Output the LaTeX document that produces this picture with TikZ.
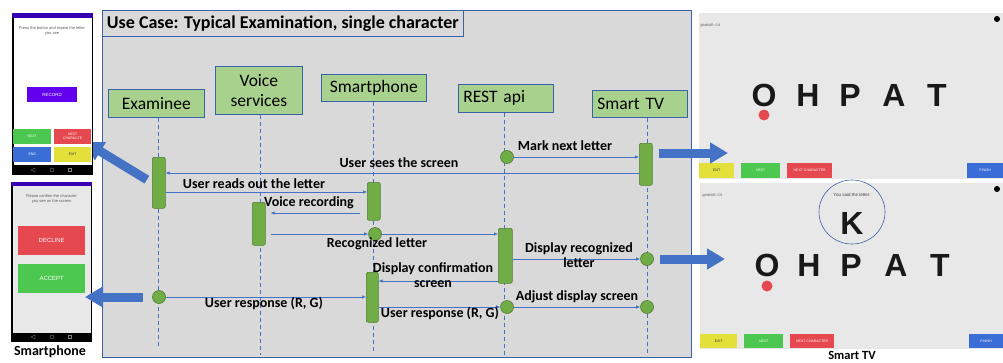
\documentclass[tikz,border=0pt]{standalone}
\usepackage{fontspec}
\setmainfont{Carlito}
\newfontfamily\scrfont{Liberation Sans}
\usepackage{xcolor}
\usetikzlibrary{arrows.meta}

\definecolor{frameblue}{HTML}{4472C4}
\definecolor{edgeblue}{HTML}{3A62A8}
\definecolor{panelgray}{HTML}{D9D9D9}
\definecolor{actorgreen}{HTML}{A9D18E}
\definecolor{bargreen}{HTML}{70AD47}
\definecolor{bardark}{HTML}{507E32}
\definecolor{btnyellow}{HTML}{E3E03A}
\definecolor{btngreen}{HTML}{4CC74F}
\definecolor{btnred}{HTML}{E5484E}
\definecolor{btnblue}{HTML}{3A6ED6}
\definecolor{btnpurple}{HTML}{6200EE}
\definecolor{statpurple}{HTML}{3700B3}
\definecolor{screengray}{HTML}{E8E8E8}

\begin{document}
\begin{tikzpicture}[x=1pt, y=-1pt,
    actor/.style={draw=edgeblue, fill=actorgreen, line width=0.7pt, inner sep=0pt, anchor=north west, align=center, font=\fontsize{17.5}{20}\selectfont},
    life/.style={frameblue, line width=0.8pt, dash pattern=on 4pt off 3pt},
    actbar/.style={draw=bardark, fill=bargreen, line width=0.6pt, rounded corners=2pt, inner sep=0pt, anchor=north west},
    actdot/.style={circle, draw=bardark, fill=bargreen, line width=0.6pt, minimum size=13pt, inner sep=0pt},
    msg/.style={frameblue, line width=0.6pt, -{Latex[length=4pt,width=3.5pt]}},
    lbl/.style={inner sep=0pt, align=center, font=\fontsize{14}{15}\selectfont\bfseries},
    bigarrow/.style={frameblue, line width=9pt, -{Triangle[length=18pt,width=20pt]}},
    btn/.style={inner sep=0pt, anchor=north west, text=white, align=center, font=\scrfont\fontsize{3.5}{4}\selectfont},
    tvletter/.style={inner sep=0pt, text=black!90, font=\scrfont\bfseries\fontsize{32}{32}\selectfont},
    smalltxt/.style={inner sep=0pt, text=black!65, align=center, font=\scrfont\fontsize{4}{5}\selectfont}]
    \useasboundingbox (0,0) rectangle (1003,362);

    % frame of the use case
    \node[draw=edgeblue, fill=panelgray, line width=0.8pt, minimum width=589pt, minimum height=347pt, inner sep=0pt, anchor=north west] (frame) at (102,10) {};
    \node[draw=edgeblue, fill=panelgray, line width=0.8pt, minimum width=361pt, minimum height=26pt, inner sep=0pt, anchor=north west, font=\fontsize{18}{20}\selectfont\bfseries] (title) at (102,10) {Use Case: Typical Examination, single character};

    % actors
    \node[actor, minimum width=96pt, minimum height=28pt] (ex) at (108,89) {Examinee};
    \node[actor, minimum width=87pt, minimum height=48pt] (vs) at (215,66) {Voice\\services};
    \node[actor, minimum width=105pt, minimum height=27pt] (sp) at (321,74) {Smartphone};
    \node[actor, text width=85pt, inner xsep=5pt, minimum height=28pt, align=left] (rest) at (458,84) {REST api};
    \node[actor, text width=85pt, inner xsep=5pt, minimum height=27pt, align=left] (tv) at (592,90) {Smart TV};

    % lifelines
    \coordinate (exend) at (158,347);
    \coordinate (vsend) at (260,355);
    \coordinate (spend) at (373,353);
    \coordinate (restend) at (504,355);
    \coordinate (tvend) at (647,353);
    \draw[life] (ex.south -| exend) -- (exend);
    \draw[life] (vs.south -| vsend) -- (vsend);
    \draw[life] (sp.south -| spend) -- (spend);
    \draw[life] (rest.south -| restend) -- (restend);
    \draw[life] (tv.south -| tvend) -- (tvend);

    % activations
    \node[actbar, minimum width=13pt, minimum height=51pt] (exbar) at (152,157) {};
    \node[actbar, minimum width=13pt, minimum height=43pt] (vsbar) at (252,202) {};
    \node[actbar, minimum width=13pt, minimum height=38pt] (spbarA) at (367,182) {};
    \node[actbar, minimum width=13pt, minimum height=42pt] (tvbarA) at (639,143) {};
    \node[actbar, minimum width=14pt, minimum height=55pt] (restbar) at (498,228) {};
    \node[actbar, minimum width=12pt, minimum height=50pt] (spbarB) at (366,272) {};
    \node[actdot] (restc1) at (507,157) {};
    \node[actdot] (spc1) at (375,234) {};
    \node[actdot] (tvc1) at (647,259) {};
    \node[actdot] (exc) at (159,297) {};
    \node[actdot] (restc2) at (507,307) {};
    \node[actdot] (tvc2) at (647,307) {};

    % messages
    \draw[msg] (restc1) -- (tvbarA.west |- restc1);
    \draw[msg] (tvbarA.west |- 0,173) -- (exbar.east |- 0,173);
    \draw[msg] (exbar.east |- 0,192) -- (spbarA.west |- 0,192);
    \draw[msg, shorten <=7pt, shorten >=5pt] (spbarA.west |- 0,213) -- (vsbar.east |- 0,213);
    \draw[msg, shorten <=5pt] (vsbar.east |- spc1) -- (spc1);
    \draw[msg] (spc1) -- (restbar.west |- spc1);
    \draw[msg] (restbar.east |- tvc1) -- (tvc1);
    \draw[msg] (restbar.west |- 0,281) -- (spbarB.east |- 0,281);
    \draw[msg] (exc) -- (spbarB.west |- exc);
    \draw[msg] (spbarB.east |- restc2) -- (restc2);
    \draw[msg] (restc2) -- (tvc2);

    \node[lbl] (lmark) at (565,146) {Mark next letter};
    \node[lbl] (lsees) at (399,163) {User sees the screen};
    \node[lbl] (lreads) at (254,184) {User reads out the letter};
    \node[lbl] (lvoice) at (309,203) {Voice recording};
    \node[lbl] (lrecog) at (377,244) {Recognized letter};
    \node[lbl] (ldisp) at (579,255.5) {Display recognized\\letter};
    \node[lbl] (lconf) at (433,275.5) {Display confirmation\\screen};
    \node[lbl] (lrespA) at (264,303) {User response (R, G)};
    \node[lbl] (lrespB) at (440,313) {User response (R, G)};
    \node[lbl] (ladjust) at (577,297) {Adjust display screen};

    % arrow to the first phone screen, behind it
    \coordinate (tipPA) at (85,142);
    \draw[bigarrow, shorten <=6pt] (exbar.west) -- (tipPA);

    % phone: record screen
    \node[fill=black, minimum width=81pt, minimum height=162pt, inner sep=0pt, anchor=north west] (phoneA) at (12,13) {};
    \fill[white] (13.5,18) rectangle (91.5,165);
    \fill[statpurple] (12,13) rectangle (93,18);
    \node[smalltxt] (pressA) at (52,31) {Press the button and repeat the letter\\you see};
    \node[btn, fill=btnpurple, minimum width=50pt, minimum height=15pt, font=\scrfont\fontsize{4.5}{5}\selectfont] (record) at (27,87) {RECORD};
    \node[btn, fill=btngreen, minimum width=38pt, minimum height=15pt] (nextA) at (13,129) {NEXT};
    \node[btn, fill=btnred, minimum width=37pt, minimum height=15pt] (charA) at (54,129) {NEXT\\CHARACTE};
    \node[btn, fill=btnblue, minimum width=38pt, minimum height=15pt] (endA) at (13,147) {END};
    \node[btn, fill=btnyellow, minimum width=37pt, minimum height=15pt, text=black!80] (exitA) at (54,147) {EXIT};
    \draw[gray, line width=0.4pt] (35,168) -- (31,170) -- (35,172) -- cycle;
    \draw[gray, line width=0.4pt] (52,170) circle[radius=2pt];
    \draw[gray, line width=0.4pt] (68.5,168.5) rectangle (71.5,171.5);

    % phone: confirm screen
    \node[fill=black, minimum width=81pt, minimum height=160pt, inner sep=0pt, anchor=north west] (phoneB) at (11,182) {};
    \fill[screengray] (12.5,186) rectangle (90.5,333);
    \fill[statpurple] (11,182) rectangle (92,186);
    \node[smalltxt] (pressB) at (51.5,198.5) {Please confirm the character\\you see on the screen};
    \node[btn, fill=btnred, minimum width=67pt, minimum height=29pt, font=\scrfont\fontsize{6}{7}\selectfont] (decline) at (18,226) {DECLINE};
    \node[btn, fill=btngreen, minimum width=67pt, minimum height=29pt, font=\scrfont\fontsize{6}{7}\selectfont] (accept) at (18,264) {ACCEPT};
    \draw[gray, line width=0.4pt] (35,335) -- (31,337) -- (35,339) -- cycle;
    \draw[gray, line width=0.4pt] (52,337) circle[radius=2pt];
    \draw[gray, line width=0.4pt] (68.5,335.5) rectangle (71.5,338.5);
    \node[inner sep=0pt, font=\fontsize{14}{16}\selectfont\bfseries] (phlabel) at (50,352) {Smartphone};

    % TV: chart
    \node[fill=screengray, minimum width=304pt, minimum height=166pt, inner sep=0pt, anchor=north west] (tvA) at (699,13) {};
    \node[smalltxt, anchor=west, font=\scrfont\fontsize{3.5}{4}\selectfont] (marA) at (700,26) {ightMAR: 0.9};
    \fill[black] (997,19) circle[radius=3pt];
    \foreach \ch/\x in {O/764,H/808,P/850,A/894,T/937}
        \node[tvletter] (ta\ch) at (\x,95) {\ch};
    \fill[btnred] (764,115) circle[radius=5.5pt];
    \node[btn, fill=btnyellow, minimum width=35pt, minimum height=15pt, text=black!80] (exitTA) at (699,163) {EXIT};
    \node[btn, fill=btngreen, minimum width=39pt, minimum height=15pt] (nextTA) at (741,163) {NEXT};
    \node[btn, fill=btnred, minimum width=45pt, minimum height=15pt] (charTA) at (787,163) {NEXT CHARACTER};
    \node[btn, fill=btnblue, minimum width=36pt, minimum height=15pt] (finTA) at (967,163) {FINISH};

    % TV: recognized letter
    \node[fill=screengray, minimum width=303pt, minimum height=166pt, inner sep=0pt, anchor=north west] (tvB) at (700,183) {};
    \node[smalltxt, anchor=west, font=\scrfont\fontsize{3.5}{4}\selectfont] (marB) at (702,196) {ightMAR: 0.9};
    \fill[black] (997,189) circle[radius=3pt];
    \draw[edgeblue, line width=0.6pt] (852,212) ellipse[x radius=33pt, y radius=32pt];
    \node[smalltxt, text=black!75, font=\scrfont\fontsize{4.5}{5}\selectfont] (said) at (852,195) {You said the letter:};
    \node[tvletter] (kletter) at (852,223.5) {K};
    \foreach \ch/\x in {O/767,H/809,P/851,A/896,T/940}
        \node[tvletter] (tb\ch) at (\x,265) {\ch};
    \fill[btnred] (767,286) circle[radius=5.5pt];
    \node[btn, fill=btnyellow, minimum width=37pt, minimum height=14pt, text=black!80] (exitTB) at (700,334) {EXIT};
    \node[btn, fill=btngreen, minimum width=39pt, minimum height=14pt] (nextTB) at (744,334) {NEXT};
    \node[btn, fill=btnred, minimum width=44pt, minimum height=14pt] (charTB) at (790,334) {NEXT CHARACTER};
    \node[btn, fill=btnblue, minimum width=34pt, minimum height=14pt] (finTB) at (969,334) {FINISH};
    \node[inner sep=0pt, font=\fontsize{12.5}{14}\selectfont\bfseries] (tvlabel) at (852,355.5) {Smart TV};

    % arrows to the screens
    \coordinate (tipTA) at (728,153);
    \coordinate (tipTB) at (725,259);
    \coordinate (tipPB) at (85,297);
    \draw[bigarrow, shorten <=6pt] (tvbarA.east |- tipTA) -- (tipTA);
    \draw[bigarrow, shorten <=6pt] (tvc1.east) -- (tipTB);
    \draw[bigarrow, shorten <=9pt] (exc.west) -- (tipPB);
\end{tikzpicture}
\end{document}
